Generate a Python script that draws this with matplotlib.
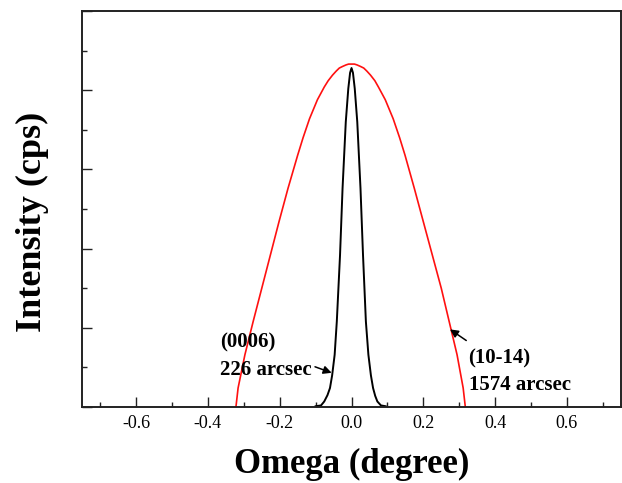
import matplotlib
matplotlib.use("Agg")
import matplotlib.pyplot as plt
from matplotlib.ticker import MultipleLocator, NullFormatter

# omega (degree) vs intensity (arbitrary units)
red_omega = [-0.322, -0.316, -0.297, -0.274, -0.250, -0.226, -0.202, -0.177, -0.150, -0.135,
             -0.117, -0.095, -0.076, -0.065, -0.053, -0.043, -0.034, -0.025, -0.015, -0.008,
             0.000, 0.008, 0.015, 0.025, 0.034, 0.043, 0.053, 0.065, 0.075, 0.094,
             0.116, 0.134, 0.149, 0.175, 0.200, 0.225, 0.250, 0.272, 0.294, 0.311,
             0.317]
red_int = [0.00, 0.24, 0.66, 1.08, 1.50, 1.92, 2.34, 2.76, 3.18, 3.40,
           3.64, 3.88, 4.04, 4.12, 4.19, 4.24, 4.28, 4.30, 4.32, 4.33,
           4.33, 4.33, 4.32, 4.30, 4.28, 4.24, 4.19, 4.12, 4.04, 3.88,
           3.64, 3.40, 3.18, 2.76, 2.34, 1.92, 1.50, 1.08, 0.66, 0.24,
           0.00]

black_omega = [-0.100, -0.085, -0.076, -0.067, -0.060, -0.054, -0.047, -0.041, -0.032, -0.025,
               -0.016, -0.009, -0.004, 0.000, 0.004, 0.009, 0.016, 0.025, 0.032, 0.040,
               0.047, 0.054, 0.060, 0.066, 0.072, 0.082, 0.095]
black_int = [0.01, 0.02, 0.07, 0.15, 0.24, 0.40, 0.66, 1.08, 1.92, 2.76,
             3.60, 4.02, 4.22, 4.28, 4.22, 4.02, 3.60, 2.76, 1.92, 1.08,
             0.66, 0.40, 0.24, 0.14, 0.07, 0.02, 0.01]

xticks = [-0.6, -0.4, -0.2, 0.0, 0.2, 0.4, 0.6]

plt.rcParams['font.family'] = ['Liberation Serif', 'DejaVu Serif']

fig = plt.figure(figsize=(6.22, 4.83), dpi=100)
ax = fig.add_axes([0.1323, 0.1573, 0.8657, 0.8199])

ax.plot(red_omega, red_int, color='#ff1010', lw=1.2)
ax.plot(black_omega, black_int, color='black', lw=1.4)

ax.set_xlim(-0.75, 0.75)
ax.set_ylim(0, 5)
ax.set_xticks(xticks)
ax.set_xticklabels([f'{t:.1f}' for t in xticks], fontsize=13)
ax.xaxis.set_minor_locator(MultipleLocator(0.1))
ax.yaxis.set_major_locator(MultipleLocator(1))
ax.yaxis.set_minor_locator(MultipleLocator(0.5))
ax.yaxis.set_major_formatter(NullFormatter())
ax.tick_params(which='both', direction='in', color='#222222')
ax.tick_params(which='major', length=7, width=1.0, pad=6)
ax.tick_params(which='minor', length=3.5, width=1.0)
for s in ax.spines.values():
    s.set_linewidth(1.4)
    s.set_color('#222222')

ax.set_xlabel('Omega (degree)', fontsize=25, fontweight='bold', labelpad=11)
ax.set_ylabel('Intensity (cps)', fontsize=26, fontweight='bold')
ax.yaxis.set_label_coords(-0.062, 0.467)

# peak labels with arrows
ax.text(-0.365, 0.82, '(0006)', fontsize=15, fontweight='bold', ha='left', va='center')
ax.text(-0.365, 0.47, '226 arcsec', fontsize=15, fontweight='bold', ha='left', va='center')
ax.annotate('', xy=(-0.048, 0.42), xytext=(-0.109, 0.52),
            arrowprops=dict(arrowstyle='-|>', color='black', lw=1.1, mutation_scale=12))

ax.text(0.326, 0.61, '(10-14)', fontsize=15, fontweight='bold', ha='left', va='center')
ax.text(0.326, 0.28, '1574 arcsec', fontsize=15, fontweight='bold', ha='left', va='center')
ax.annotate('', xy=(0.268, 1.0), xytext=(0.326, 0.82),
            arrowprops=dict(arrowstyle='-|>', color='black', lw=1.1, mutation_scale=12))

fig.savefig('out.png', dpi=100)
